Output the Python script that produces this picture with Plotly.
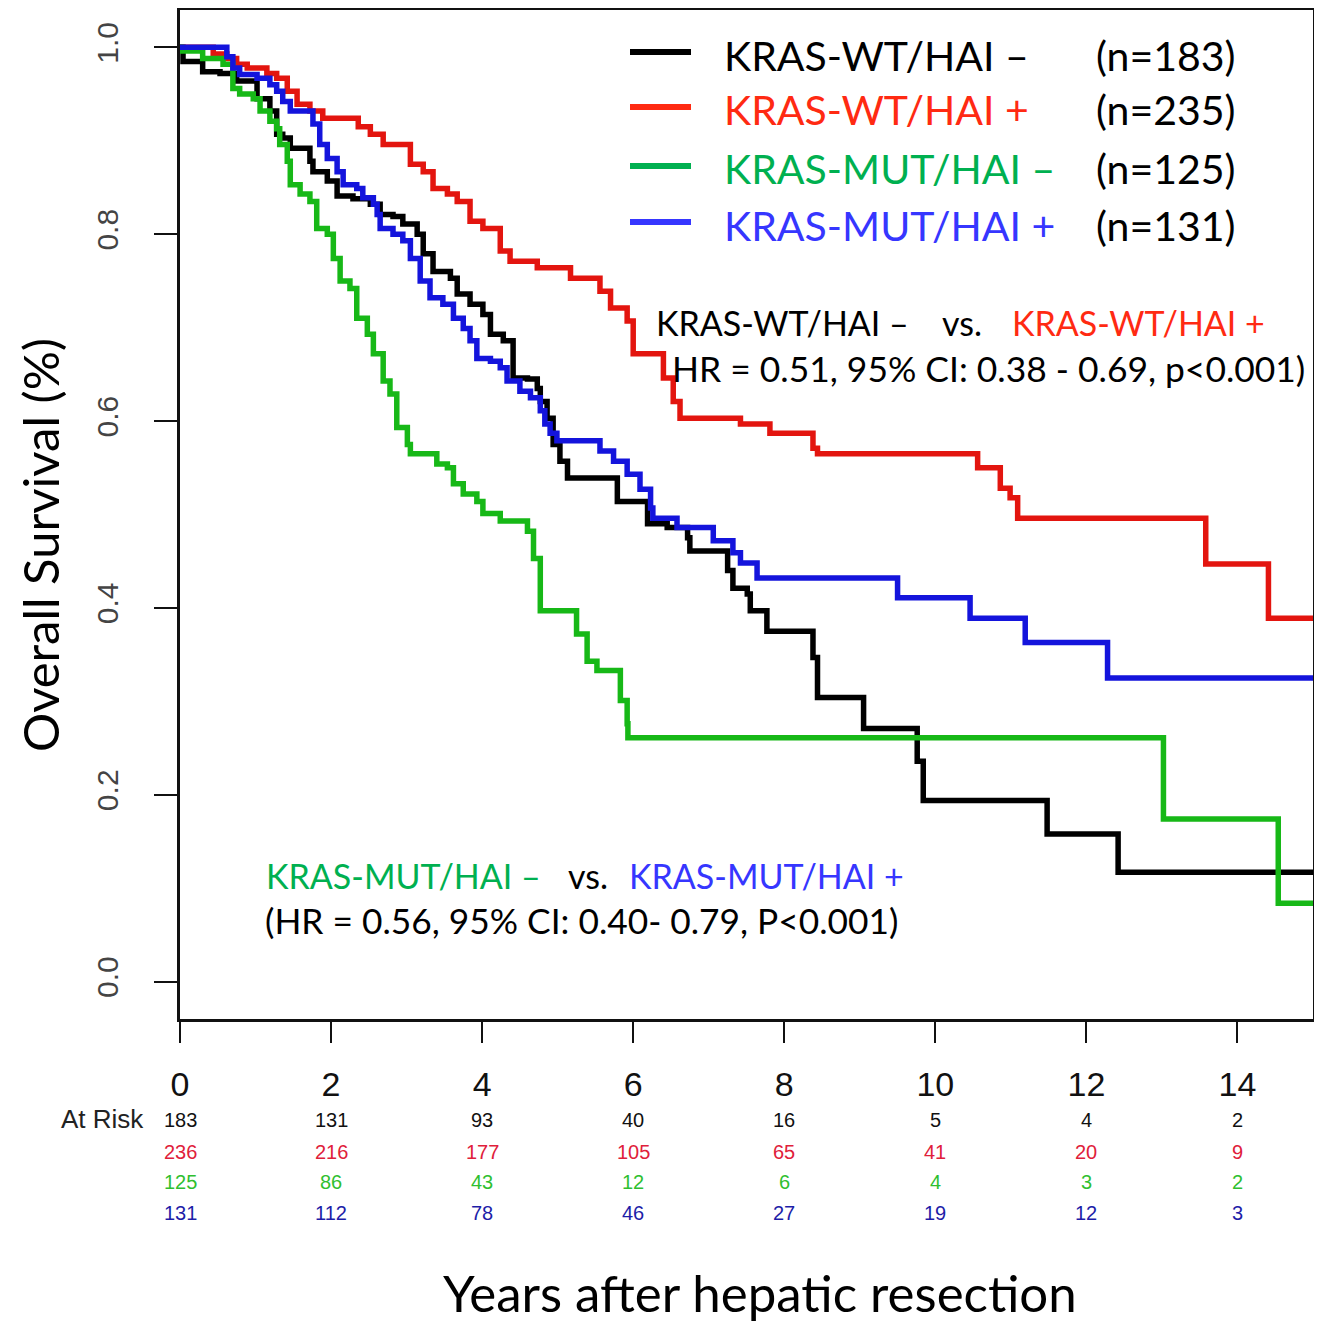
import plotly.graph_objects as go

# ---------------- data ----------------
years_ticks = [0, 2, 4, 6, 8, 10, 12, 14]
surv_ticks = [0.0, 0.2, 0.4, 0.6, 0.8, 1.0]

group_names = ["KRAS-WT/HAI \u2013", "KRAS-WT/HAI +", "KRAS-MUT/HAI \u2013", "KRAS-MUT/HAI +"]
group_n = [183, 235, 125, 131]

# KRAS-WT/HAI -
bk_t = [0, 0.04, 0.30, 0.53, 0.75, 1.02, 1.19, 1.28, 1.36, 1.46, 1.72, 1.76, 1.95, 2.08, 2.29,
        2.52, 2.65, 2.82, 2.95, 3.14, 3.22, 3.35, 3.58, 3.67, 3.84, 4.01, 4.11, 4.28, 4.41, 4.60,
        4.73, 4.77, 4.86, 4.94, 5.03, 5.13, 5.79, 6.19, 6.45, 6.72, 6.75, 7.25, 7.32, 7.51, 7.55,
        7.77, 8.38, 8.44, 9.05, 9.76, 9.84, 11.48, 12.42, 15.0]
bk_s = [1.0, 0.985, 0.974, 0.972, 0.964, 0.945, 0.932, 0.907, 0.903, 0.892, 0.878, 0.867, 0.857, 0.841, 0.838,
        0.832, 0.821, 0.819, 0.811, 0.800, 0.779, 0.760, 0.753, 0.736, 0.725, 0.714, 0.693, 0.686, 0.646, 0.645,
        0.635, 0.621, 0.603, 0.575, 0.557, 0.539, 0.514, 0.490, 0.486, 0.475, 0.461, 0.440, 0.421, 0.415, 0.397,
        0.375, 0.347, 0.304, 0.271, 0.236, 0.194, 0.158, 0.117, 0.117]

# KRAS-WT/HAI +
rd_t = [0, 0.44, 0.62, 0.75, 0.89, 1.15, 1.28, 1.42, 1.55, 1.72, 1.89, 2.36, 2.52, 2.69, 3.05, 3.22,
        3.35, 3.54, 3.67, 3.84, 4.01, 4.24, 4.37, 4.73, 5.17, 5.56, 5.70, 5.92, 6.0, 6.40, 6.53,
        6.62, 7.42, 7.81, 8.38, 8.44, 10.56, 10.86, 10.99, 11.09, 13.58, 14.41, 15.0]
rd_s = [1.0, 0.993, 0.988, 0.982, 0.978, 0.972, 0.967, 0.953, 0.939, 0.932, 0.924, 0.915, 0.907, 0.896, 0.875, 0.867,
        0.849, 0.843, 0.835, 0.814, 0.806, 0.782, 0.771, 0.764, 0.753, 0.739, 0.721, 0.707, 0.672, 0.646, 0.621,
        0.603, 0.597, 0.587, 0.571, 0.565, 0.550, 0.528, 0.518, 0.496, 0.447, 0.389, 0.389]

# KRAS-MUT/HAI -
gr_t = [0, 0.02, 0.30, 0.57, 0.70, 0.79, 0.97, 1.06, 1.19, 1.28, 1.32, 1.42, 1.46, 1.59, 1.72,
        1.81, 1.95, 2.03, 2.12, 2.25, 2.34, 2.48, 2.56, 2.69, 2.78, 2.87, 3.01, 3.05, 3.40, 3.54,
        3.62, 3.75, 3.93, 4.01, 4.24, 4.60, 4.68, 4.77, 5.25, 5.39, 5.52, 5.83, 5.92, 5.93, 13.02,
        14.54, 15.0]
gr_s = [1.0, 0.996, 0.988, 0.982, 0.956, 0.950, 0.945, 0.932, 0.921, 0.913, 0.896, 0.878, 0.853, 0.843, 0.835,
        0.806, 0.800, 0.774, 0.750, 0.742, 0.710, 0.693, 0.672, 0.643, 0.629, 0.593, 0.575, 0.565, 0.554, 0.550,
        0.533, 0.522, 0.514, 0.501, 0.493, 0.482, 0.453, 0.397, 0.372, 0.343, 0.333, 0.301, 0.276, 0.261, 0.174,
        0.084, 0.084]

# KRAS-MUT/HAI +
bl_t = [0, 0.62, 0.70, 0.79, 1.02, 1.19, 1.28, 1.36, 1.46, 1.76, 1.85, 1.95, 2.08, 2.16, 2.34,
        2.42, 2.56, 2.61, 2.65, 2.82, 2.95, 3.05, 3.18, 3.31, 3.48, 3.62, 3.75, 3.84, 3.93, 4.11,
        4.24, 4.33, 4.50, 4.64, 4.77, 4.83, 4.90, 4.99, 5.56, 5.74, 5.92, 6.09, 6.23, 6.26, 6.58,
        7.06, 7.32, 7.42, 7.64, 9.50, 10.46, 11.19, 12.28, 15.0]
bl_s = [1.0, 0.990, 0.978, 0.971, 0.967, 0.960, 0.953, 0.942, 0.932, 0.918, 0.896, 0.881, 0.867, 0.853, 0.849,
        0.839, 0.832, 0.821, 0.806, 0.800, 0.793, 0.774, 0.750, 0.732, 0.725, 0.710, 0.699, 0.686, 0.667, 0.664,
        0.657, 0.643, 0.632, 0.625, 0.611, 0.597, 0.587, 0.579, 0.568, 0.557, 0.543, 0.527, 0.507, 0.496, 0.486,
        0.472, 0.459, 0.448, 0.432, 0.411, 0.389, 0.363, 0.325, 0.325]

# numbers at risk
risk_bk = [183, 131, 93, 40, 16, 5, 4, 2]
risk_rd = [236, 216, 177, 105, 65, 41, 20, 9]
risk_gr = [125, 86, 43, 12, 6, 4, 3, 2]
risk_bl = [131, 112, 78, 46, 27, 19, 12, 3]

# ---------------- styling ----------------
curve_colors = ["#000000", "#e3150f", "#17b817", "#1414dc"]
legend_colors = ["#000000", "#ff2a12", "#00b050", "#3636ff"]
risk_colors = ["#111111", "#e0203a", "#2fbf2f", "#1d1da8"]
CAL = "Lato, 'Open Sans', sans-serif"
NARROW = "'Liberation Sans Narrow', 'Arial Narrow', 'Liberation Sans', Arial, sans-serif"

# page body has an 8px margin; figure is sized so the screen is filled
OFF = 8
W, H = 1322 - OFF, 1326 - OFF
SL, SR, ST, SB = 180, 1313, 10, 1019          # plot box in screen pixels
L, T = SL - OFF, ST - OFF
R = W - (SR - OFF)
B = H - (SB - OFF)
PW, PH = SR - SL, SB - ST


def px(xs):
    return (xs - SL) / PW


def py(ys):
    return (SB - ys) / PH


fig = go.Figure()
series = [(bk_t, bk_s), (rd_t, rd_s), (gr_t, gr_s), (bl_t, bl_s)]
for (t, s), name, col in zip(series, group_names, curve_colors):
    fig.add_trace(go.Scatter(x=t, y=s, mode="lines", name=name, line=dict(color=col, width=5.5, shape="hv"),
                             showlegend=False))

ann = []
shapes = []

# legend
leg_y = [55, 110, 169, 225]
for name, n, col, yy in zip(group_names, group_n, legend_colors, leg_y):
    shapes.append(dict(type="line", xref="paper", yref="paper", x0=px(630), x1=px(691), y0=py(yy - 3), y1=py(yy - 3),
                       line=dict(color=col, width=6)))
    ann.append(dict(xref="paper", yref="paper", x=px(722), y=py(yy), xanchor="left", yanchor="middle",
                    text=name, showarrow=False, font=dict(family=CAL, size=41, color=col)))
    ann.append(dict(xref="paper", yref="paper", x=px(1238), y=py(yy), xanchor="right", yanchor="middle",
                    text="(n=%d)" % n, showarrow=False, font=dict(family=CAL, size=41, color="#000000")))

# comparison annotations
ann += [
    dict(xref="paper", yref="paper", x=px(654), y=py(322), xanchor="left", yanchor="middle",
         text=group_names[0], showarrow=False, font=dict(family=CAL, size=34, color="#000000")),
    dict(xref="paper", yref="paper", x=px(940), y=py(322), xanchor="left", yanchor="middle",
         text="vs.", showarrow=False, font=dict(family=CAL, size=34, color="#000000")),
    dict(xref="paper", yref="paper", x=px(1010), y=py(322), xanchor="left", yanchor="middle",
         text=group_names[1], showarrow=False, font=dict(family=CAL, size=34, color=legend_colors[1])),
    dict(xref="paper", yref="paper", x=px(670), y=py(368), xanchor="left", yanchor="middle",
         text="HR = 0.51, 95% CI: 0.38 - 0.69, p&lt;0.001)", showarrow=False,
         font=dict(family=CAL, size=35.4, color="#000000")),
    dict(xref="paper", yref="paper", x=px(264), y=py(875), xanchor="left", yanchor="middle",
         text=group_names[2], showarrow=False, font=dict(family=CAL, size=34, color=legend_colors[2])),
    dict(xref="paper", yref="paper", x=px(566), y=py(875), xanchor="left", yanchor="middle",
         text="vs.", showarrow=False, font=dict(family=CAL, size=34, color="#000000")),
    dict(xref="paper", yref="paper", x=px(627), y=py(875), xanchor="left", yanchor="middle",
         text=group_names[3], showarrow=False, font=dict(family=CAL, size=34, color=legend_colors[3])),
    dict(xref="paper", yref="paper", x=px(263), y=py(920), xanchor="left", yanchor="middle",
         text="(HR = 0.56, 95% CI: 0.40- 0.79, P&lt;0.001)", showarrow=False,
         font=dict(family=CAL, size=35.3, color="#000000")),
]

# at-risk table
ann.append(dict(xref="paper", yref="paper", x=px(146), y=py(1119), xanchor="right", yanchor="middle",
                text="At Risk", showarrow=False, font=dict(family=NARROW, size=26, color="#222222")))
risk_rows = [(risk_bk, 1120), (risk_rd, 1152), (risk_gr, 1182), (risk_bl, 1213)]
for (row, yy), col in zip(risk_rows, risk_colors):
    for xv, v in zip(years_ticks, row):
        ann.append(dict(xref="x", yref="paper", x=xv, y=py(yy), xanchor="center", yanchor="middle",
                        text=str(v), showarrow=False, font=dict(family=NARROW, size=20, color=col)))

# axis titles
ann.append(dict(xref="paper", yref="paper", x=px(760), y=py(1292), xanchor="center", yanchor="middle",
                text="Years after hepatic resection", showarrow=False,
                font=dict(family=CAL, size=51, color="#000000")))
ann.append(dict(xref="paper", yref="paper", x=px(40), y=py(545), xanchor="center", yanchor="middle",
                text="Overall Survival (%)", textangle=-90, showarrow=False,
                font=dict(family=CAL, size=49, color="#000000")))

fig.update_layout(
    width=W, height=H,
    margin=dict(l=L, r=R, t=T, b=B, autoexpand=False),
    paper_bgcolor="white", plot_bgcolor="white",
    showlegend=False,
    annotations=ann, shapes=shapes,
    xaxis=dict(range=[0, 15], tickvals=years_ticks, ticktext=[str(v) for v in years_ticks],
               showgrid=False, zeroline=False, showline=True, linecolor="#111111", linewidth=2.5, mirror=True,
               ticks="outside", ticklen=21, tickwidth=2, tickcolor="#111111",
               tickfont=dict(family=NARROW, size=34, color="#111111"), ticklabelstandoff=12),
    yaxis=dict(range=[-0.04, 1.04], tickvals=surv_ticks, ticktext=["%.1f" % v for v in surv_ticks],
               showgrid=False, zeroline=False, showline=True, linecolor="#111111", linewidth=2.5, mirror=True,
               ticks="outside", ticklen=23, tickwidth=2, tickcolor="#111111", tickangle=-90,
               tickfont=dict(family=NARROW, size=30, color="#444444"), ticklabelstandoff=24),
)

fig.write_html("out.html")
